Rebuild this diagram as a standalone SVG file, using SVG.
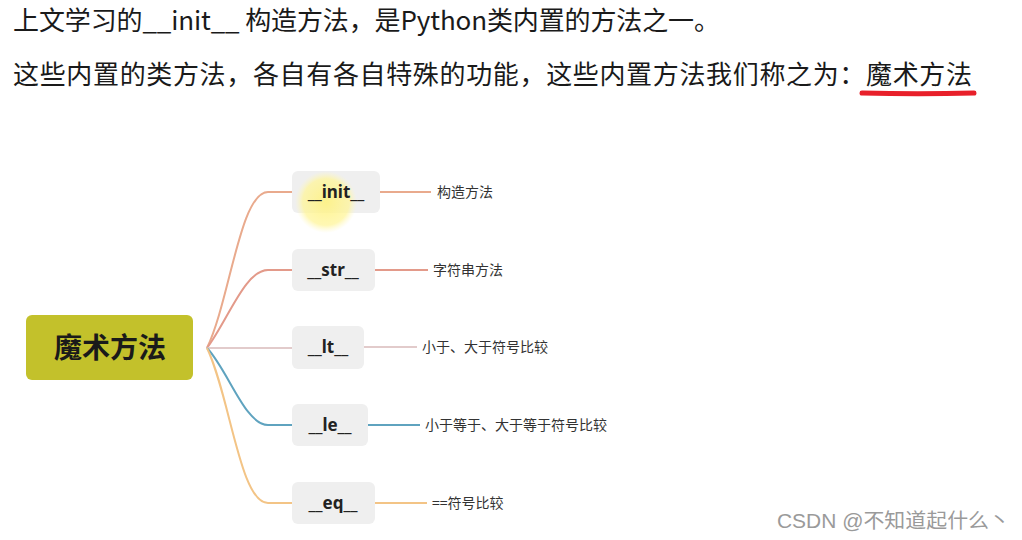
<svg xmlns="http://www.w3.org/2000/svg" width="1022" height="540" viewBox="0 0 1022 540">
<style>
.title{font-family:"Noto Sans CJK SC","Noto Sans",sans-serif;font-size:26px;fill:#1a1a1a}
.root{fill:#c3c12b}
.rootT{font-family:"Noto Sans CJK SC",sans-serif;font-size:28px;font-weight:bold;fill:#1a1a1a;text-anchor:middle}
.node{fill:#efefef}
.nodeT{font-family:"Noto Sans","Noto Sans CJK SC",sans-serif;font-size:17px;font-weight:bold;fill:#222;text-anchor:middle}
.lbl{font-family:"Noto Sans CJK SC",sans-serif;font-size:14px;fill:#333}
.ln{fill:none;stroke-width:2}
.wm{font-family:"Liberation Sans","Noto Sans CJK SC",sans-serif;font-size:20px;fill:#9a9a9a}
</style>
<defs>
<radialGradient id="glow">
<stop offset="0" stop-color="#fff27a" stop-opacity="0.85"/>
<stop offset="0.75" stop-color="#fff59a" stop-opacity="0.75"/>
<stop offset="1" stop-color="#fff8c0" stop-opacity="0"/>
</radialGradient>
</defs>
<rect width="1022" height="540" fill="#ffffff"/>
<g id="header">
<text class="title" x="13" y="30" textLength="707" lengthAdjust="spacing">上文学习的__init__ 构造方法，是Python类内置的方法之一。</text>
<text class="title" x="13" y="84" textLength="959" lengthAdjust="spacing">这些内置的类方法，各自有各自特殊的功能，这些内置方法我们称之为：魔术方法</text>
<path d="M862,93 Q918,94.5 974,93" fill="none" stroke="#e8202a" stroke-width="5" stroke-linecap="round"/>
</g>
<g id="connectors">
<path class="ln" stroke="#e9aa8d" d="M207,348 C230,300 240,192 268,192 H292"/>
<path class="ln" stroke="#e39a8a" d="M207,348 C228,320 245,270 268,270 H292"/>
<path class="ln" stroke="#e2cbcb" d="M207,348 H292"/>
<path class="ln" stroke="#5fa3bf" d="M207,348 C228,370 245,425 268,425 H292"/>
<path class="ln" stroke="#f3c486" d="M207,348 C230,396 240,503 268,503 H292"/>
<path class="ln" stroke="#e9aa8d" d="M380,192 H431"/>
<path class="ln" stroke="#e39a8a" d="M375,270 H428"/>
<path class="ln" stroke="#e2cbcb" d="M364,347 H417"/>
<path class="ln" stroke="#5fa3bf" d="M368,425 H420"/>
<path class="ln" stroke="#f3c486" d="M375,503 H427"/>
</g>
<g id="root">
<rect class="root" x="26" y="315" width="167" height="65" rx="6"/>
<text class="rootT" x="110" y="358">魔术方法</text>
</g>
<g id="n-init">
<rect class="node" x="292" y="171" width="88" height="42" rx="6"/>
<circle cx="326" cy="202" r="31" fill="url(#glow)"/>
<text class="nodeT" x="336" y="198">__init__</text>
<text class="lbl" x="437" y="197">构造方法</text>
</g>
<g id="n-str">
<rect class="node" x="292" y="249" width="83" height="42" rx="6"/>
<text class="nodeT" x="333" y="276">__str__</text>
<text class="lbl" x="433" y="275">字符串方法</text>
</g>
<g id="n-lt">
<rect class="node" x="292" y="326" width="72" height="43" rx="6"/>
<text class="nodeT" x="328" y="353">__lt__</text>
<text class="lbl" x="422" y="352">小于、大于符号比较</text>
</g>
<g id="n-le">
<rect class="node" x="292" y="404" width="76" height="42" rx="6"/>
<text class="nodeT" x="330" y="431">__le__</text>
<text class="lbl" x="425" y="430">小于等于、大于等于符号比较</text>
</g>
<g id="n-eq">
<rect class="node" x="292" y="482" width="83" height="42" rx="6"/>
<text class="nodeT" x="333" y="509">__eq__</text>
<text class="lbl" x="432" y="508">==符号比较</text>
</g>
<g id="watermark">
<text class="wm" x="777" y="528" textLength="233" lengthAdjust="spacingAndGlyphs">CSDN @不知道起什么丶</text>
</g>
</svg>
